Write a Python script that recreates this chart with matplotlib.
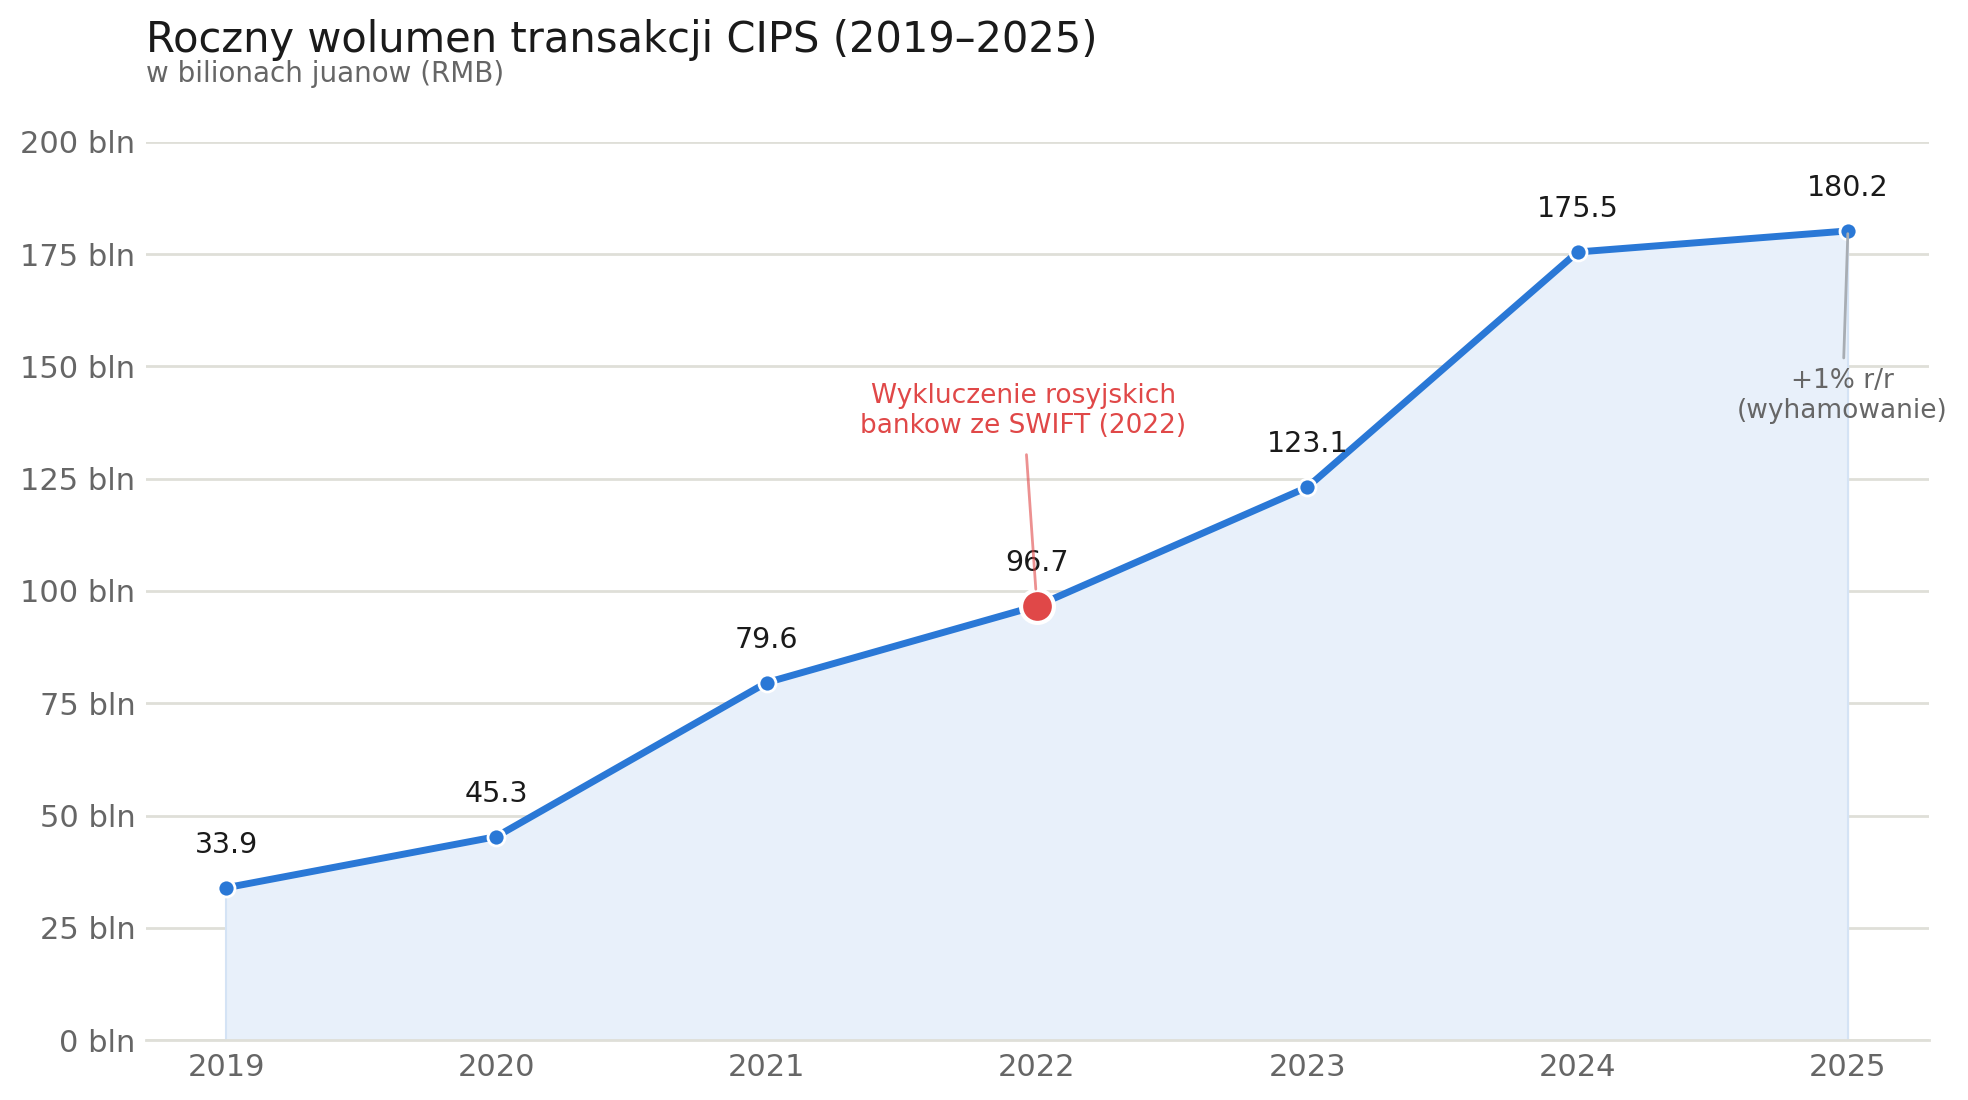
import numpy as np
import matplotlib
matplotlib.use("Agg")
import matplotlib.pyplot as plt

years = [2019, 2020, 2021, 2022, 2023, 2024, 2025]
volume = [33.9, 45.3, 79.6, 96.7, 123.1, 175.5, 180.2]
y_ticks = [0, 25, 50, 75, 100, 125, 150, 175, 200]
highlight_year = 2022

line_col = "#2a78d6"
red = "#e04848"
grey_txt = "#666666"

plt.rcParams['font.family'] = ['DejaVu Sans']
fig = plt.figure(figsize=(19.68, 11), dpi=100)
ax = fig.add_axes([146 / 1968, 60 / 1100, (1929 - 146) / 1968, (1040 - 142) / 1100])

ax.fill_between(years, volume, 0, color="#e8f0fa", zorder=1)
ax.plot([years[0], years[0]], [0, volume[0]], color="#d4e3f5", lw=1.5, zorder=1)
ax.plot([years[-1], years[-1]], [0, volume[-1]], color="#d4e3f5", lw=1.5, zorder=1)
ax.plot(years, volume, color=line_col, lw=5, zorder=3, solid_capstyle="round")

for x, v in zip(years, volume):
    if x == highlight_year:
        ax.scatter([x], [v], s=560, color=red, edgecolor="white", linewidth=3, zorder=5)
    else:
        ax.scatter([x], [v], s=150, color=line_col, edgecolor="white", linewidth=2, zorder=4)
    ax.annotate(f"{v:.1f}", (x, v), xytext=(0, 31), textcoords="offset points",
                ha="center", va="center", fontsize=20.5, color="#1a1a1a", zorder=6)

i = years.index(highlight_year)
ax.annotate("Wykluczenie rosyjskich\nbankow ze SWIFT (2022)", xy=(years[i], volume[i]),
            xytext=(years[i] - 0.05, 140), ha="center", va="center",
            fontsize=19, color=red, zorder=6,
            arrowprops=dict(arrowstyle="-", color=red, alpha=0.6, lw=2,
                            shrinkA=9, shrinkB=12))

ax.annotate("+1% r/r\n(wyhamowanie)", xy=(years[-1], volume[-1]),
            xytext=(years[-1] - 0.02, 143.5), ha="center", va="center",
            fontsize=19, color=grey_txt, zorder=6, annotation_clip=False,
            arrowprops=dict(arrowstyle="-", color="#a8adb3", lw=2,
                            shrinkA=5, shrinkB=2))

ax.set_xlim(2018.704, 2025.3)
ax.set_ylim(0, 200)
ax.set_yticks(y_ticks)
ax.set_yticklabels([f"{t} bln" for t in y_ticks])
ax.set_xticks(years)
ax.set_xticklabels([str(y) for y in years])
ax.tick_params(axis="both", length=0, labelsize=22, labelcolor=grey_txt)
ax.tick_params(axis="y", pad=7.5)
ax.tick_params(axis="x", pad=9)
ax.grid(axis="y", color="#dfdfd8", lw=2, zorder=0)
ax.set_axisbelow(True)
for s in ["top", "right", "left"]:
    ax.spines[s].set_visible(False)
ax.spines["bottom"].set_color("#dfdfd8")
ax.spines["bottom"].set_linewidth(2)

fig.text(146 / 1968, 1 - 40 / 1100, "Roczny wolumen transakcji CIPS (2019–2025)",
         fontsize=30, color="#1a1a1a", va="center", ha="left")
fig.text(146 / 1968, 1 - 74 / 1100, "w bilionach juanow (RMB)",
         fontsize=20, color=grey_txt, va="center", ha="left")

fig.savefig("out.png", dpi=100)
